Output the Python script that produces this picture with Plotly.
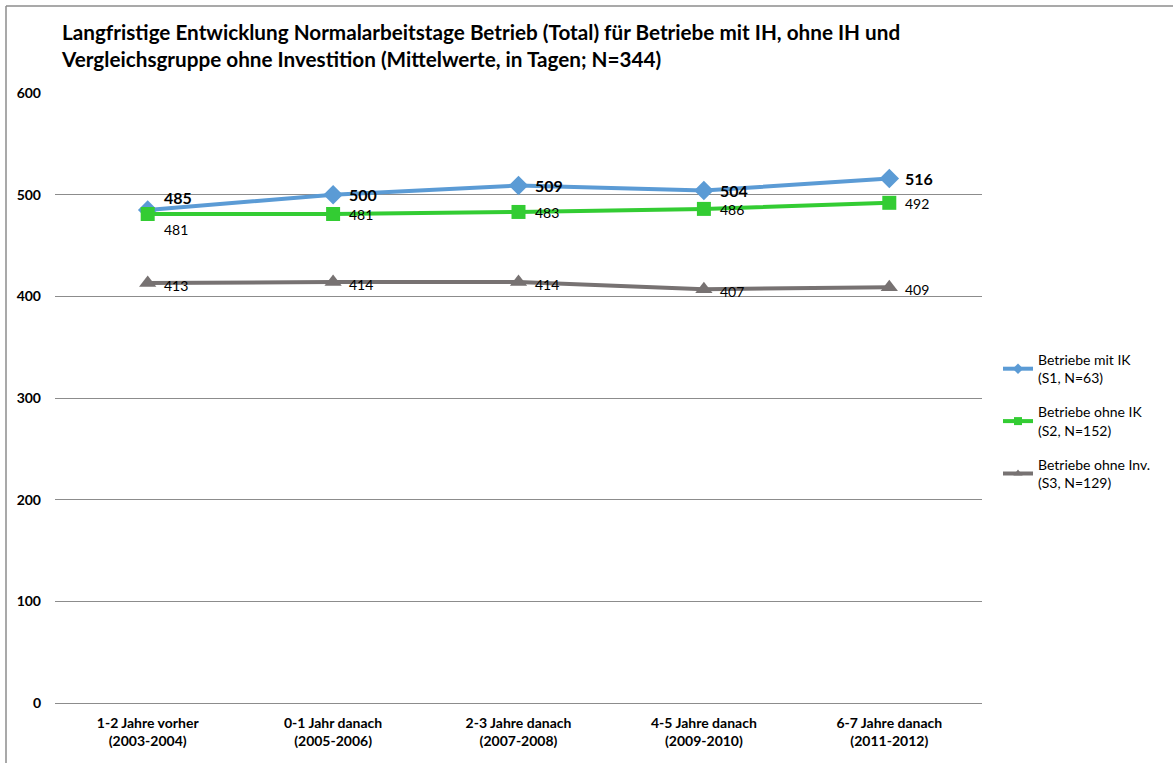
import plotly.graph_objects as go

# Zeiträume (Kategorien der x-Achse)
categories = [
    "1-2 Jahre vorher<br>(2003-2004)",
    "0-1 Jahr danach<br>(2005-2006)",
    "2-3 Jahre danach<br>(2007-2008)",
    "4-5 Jahre danach<br>(2009-2010)",
    "6-7 Jahre danach<br>(2011-2012)",
]

# Mittelwerte Normalarbeitstage je Gruppe
s1_mit_ik = [485, 500, 509, 504, 516]
s2_ohne_ik = [481, 481, 483, 486, 492]
s3_ohne_inv = [413, 414, 414, 407, 409]

series_names = [
    "Betriebe mit IK<br>(S1, N=63)",
    "Betriebe ohne IK<br>(S2, N=152)",
    "Betriebe ohne Inv.<br>(S3, N=129)",
]

y_ticks = [0, 100, 200, 300, 400, 500, 600]

FONT = "Lato, Calibri, Arial, sans-serif"
BLUE = "#5B9BD5"
GREEN = "#33CC33"
GREY = "#777272"

W, H = 1173, 763
L, R, T, B = 55, 191, 93, 60

styles = [
    (s1_mit_ik, BLUE, "diamond", 15, 8),
    (s2_ohne_ik, GREEN, "square", 14, 8),
    (s3_ohne_inv, GREY, "triangle-up", 15, 8),
]

fig = go.Figure()

# Linien mit Markern
for vals, col, sym, size, _ in styles:
    fig.add_trace(go.Scatter(
        x=categories, y=vals, mode="lines+markers", showlegend=False,
        line=dict(color=col, width=4), marker=dict(symbol=sym, size=size, color=col),
    ))

# Legendeneinträge mit kleineren Symbolen
for name, (vals, col, sym, _, lsize) in zip(series_names, styles):
    fig.add_trace(go.Scatter(
        x=[None], y=[None], name=name, mode="lines+markers", legendgroup=name,
        line=dict(color=col, width=4), marker=dict(symbol=sym, size=lsize, color=col),
    ))

annotations = []
# Datenbeschriftungen: S1 fett, S2/S3 normal
for i, (c, v) in enumerate(zip(categories, s1_mit_ik)):
    annotations.append(dict(
        x=c, y=v, text=str(v), showarrow=False, xanchor="left", yanchor="middle",
        xshift=14, yshift=12 if i == 0 else 0,
        font=dict(family=FONT, size=16, color="#000000", weight="bold"),
    ))
for i, (c, v) in enumerate(zip(categories, s2_ohne_ik)):
    annotations.append(dict(
        x=c, y=v, text=str(v), showarrow=False, xanchor="left", yanchor="middle",
        xshift=14, yshift=-16 if i == 0 else -1,
        font=dict(family=FONT, size=14, color="#000000"),
    ))
for c, v in zip(categories, s3_ohne_inv):
    annotations.append(dict(
        x=c, y=v, text=str(v), showarrow=False, xanchor="left", yanchor="middle",
        xshift=14, yshift=-2,
        font=dict(family=FONT, size=14, color="#000000"),
    ))


def px_x(p):
    return (p - L) / (W - L - R)


def px_y(p):
    return (H - B - p) / (H - T - B)


# Rahmen oben und links
shapes = [
    dict(type="line", xref="paper", yref="paper", x0=px_x(6), x1=px_x(W + 5),
         y0=px_y(6), y1=px_y(6), line=dict(color="#8c8c8c", width=1.5)),
    dict(type="line", xref="paper", yref="paper", x0=px_x(6), x1=px_x(6),
         y0=px_y(6), y1=px_y(H + 5), line=dict(color="#8c8c8c", width=1.5)),
]

fig.update_layout(
    width=W, height=H,
    margin=dict(l=L, r=R, t=T, b=B),
    paper_bgcolor="white", plot_bgcolor="white",
    font=dict(family=FONT, color="#000000"),
    title=dict(
        text="Langfristige Entwicklung Normalarbeitstage Betrieb (Total) für Betriebe mit IH, ohne IH und<br>"
             "Vergleichsgruppe ohne Investition (Mittelwerte, in Tagen; N=344)",
        x=62 / W, xanchor="left", xref="container",
        y=1 - 40 / H, yanchor="middle", yref="container",
        font=dict(family=FONT, size=20.7, color="#000000", weight="bold"),
    ),
    xaxis=dict(
        range=[-0.5, 4.5], showgrid=False, showline=False, zeroline=False,
        ticks="", tickfont=dict(family=FONT, size=14, color="#000000", weight="bold"),
        ticklabelstandoff=10,
    ),
    yaxis=dict(
        range=[0, 600], tickvals=y_ticks, showgrid=True, gridcolor="#8c8c8c", gridwidth=1,
        zeroline=True, zerolinecolor="#8c8c8c", zerolinewidth=1, showline=False,
        ticks="", tickfont=dict(family=FONT, size=14, color="#000000", weight="bold"),
        ticklabelstandoff=13,
    ),
    legend=dict(
        x=px_x(998), y=px_y(344), xanchor="left", yanchor="top",
        font=dict(family=FONT, size=14, color="#000000"),
        tracegroupgap=13, bgcolor="rgba(0,0,0,0)",
    ),
    annotations=annotations,
    shapes=shapes,
    showlegend=True,
)

fig.write_html("out.html")
